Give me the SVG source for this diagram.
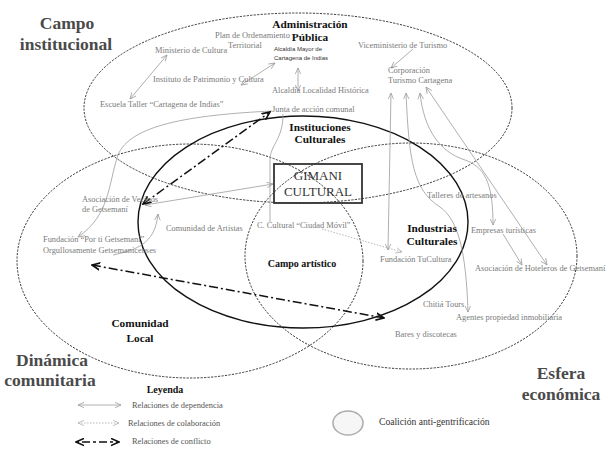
<svg xmlns="http://www.w3.org/2000/svg" width="611" height="450" viewBox="0 0 611 450">
<style>
.bg{fill:#ffffff}
.ell{fill:none;stroke:#222;stroke-width:0.9;stroke-dasharray:2.2 1.3}
.sol{fill:none;stroke:#111;stroke-width:1.4}
.big{font-family:"Liberation Serif",serif;font-weight:bold;font-size:17.5px;fill:#4a4a4a;text-anchor:middle}
.hd{font-family:"Liberation Serif",serif;font-weight:bold;font-size:11.3px;fill:#111;text-anchor:middle}
.sm{font-family:"Liberation Serif",serif;font-size:8.4px;fill:#7a7a7a}
.tiny{font-family:"Liberation Sans",Arial,sans-serif;font-size:6px;fill:#333;text-anchor:middle}
.box{fill:none;stroke:#333;stroke-width:1.8}
.gim{font-family:"Liberation Serif",serif;font-size:13px;fill:#333;text-anchor:middle}
.dep{fill:none;stroke:#9c9c9c;stroke-width:0.8}
.col{fill:none;stroke:#b0b0b0;stroke-width:0.9;stroke-dasharray:1.5 1.5}
.con{fill:none;stroke:#111;stroke-width:1.5;stroke-dasharray:9 3 2 3}
.leg{font-family:"Liberation Serif",serif;font-size:8.4px;fill:#555}
</style>
<defs>
<marker id="ag" viewBox="0 0 10 10" refX="9" refY="5" markerWidth="7" markerHeight="7" markerUnits="userSpaceOnUse" orient="auto-start-reverse">
<path d="M0,1 L9,5 L0,9" fill="none" stroke="#9c9c9c" stroke-width="1.1"/>
</marker>
<marker id="ac" viewBox="0 0 10 10" refX="9" refY="5" markerWidth="7" markerHeight="7" markerUnits="userSpaceOnUse" orient="auto-start-reverse">
<path d="M0,1 L9,5 L0,9" fill="none" stroke="#b0b0b0" stroke-width="1.1"/>
</marker>
<marker id="ak" viewBox="0 0 10 10" refX="9" refY="5" markerWidth="9" markerHeight="9" markerUnits="userSpaceOnUse" orient="auto-start-reverse">
<path d="M0,1 L9,5 L0,9" fill="none" stroke="#111" stroke-width="1.8"/>
</marker>
</defs>
<rect class="bg" x="0" y="0" width="611" height="450"/>

<g id="fields">
<ellipse id="campo-institucional" class="ell" cx="298" cy="108" rx="214" ry="95"/>
<ellipse id="dinamica-comunitaria" class="ell" cx="190" cy="261" rx="173" ry="117"/>
<ellipse id="esfera-economica" class="ell" cx="411" cy="256" rx="166" ry="113"/>
<ellipse id="coalicion" class="sol" cx="303" cy="222" rx="165" ry="106"/>
</g>

<g id="connectors">
<path class="dep" d="M167,55 L130,99" marker-start="url(#ag)" marker-end="url(#ag)"/>
<path class="dep" d="M241,85 L275,63" marker-start="url(#ag)" marker-end="url(#ag)"/>
<path class="dep" d="M298,68 L298,91" marker-start="url(#ag)" marker-end="url(#ag)"/>
<path class="dep" d="M413,49 L391,68" marker-end="url(#ag)"/>
<path class="dep" d="M391,93 L388,250" marker-start="url(#ag)" marker-end="url(#ag)"/>
<path class="dep" d="M406,93 C409,160 413,190 440,207 C458,220 466,250 468,312" marker-start="url(#ag)" marker-end="url(#ag)"/>
<path class="dep" d="M420,93 C424,130 440,152 465,160 C488,168 493,190 493,225" marker-start="url(#ag)" marker-end="url(#ag)"/>
<path class="dep" d="M426,87 L547,265" marker-start="url(#ag)" marker-end="url(#ag)"/>
<path class="dep" d="M503,234 L522,265" marker-end="url(#ag)"/>
<path class="dep" d="M272,111 C190,115 130,125 118,155 C108,185 110,215 78,237" marker-end="url(#ag)"/>
<path class="dep" d="M145,205 L273,184" marker-start="url(#ag)" marker-end="url(#ag)"/>
<path class="dep" d="M113,255 C135,250 155,245 158,214" marker-end="url(#ag)"/>
<path class="dep" d="M283,114 C283,140 270,145 270,160 L270,222"/>
<path class="col" d="M322,229 L402,252" marker-end="url(#ac)"/>
<path class="con" d="M143,204 L270,112" marker-start="url(#ak)" marker-end="url(#ak)"/>
<path class="con" d="M92,265 L384,318" marker-start="url(#ak)" marker-end="url(#ak)"/>
</g>

<g id="field-labels">
<text class="big" x="67" y="29">Campo</text>
<text class="big" x="66" y="50">institucional</text>
<text class="big" x="52" y="366">Dinámica</text>
<text class="big" x="50" y="386">comunitaria</text>
<text class="big" x="561" y="379">Esfera</text>
<text class="big" x="561" y="400">económica</text>
</g>

<g id="zone-labels">
<text class="hd" x="310" y="28">Administración</text>
<text class="hd" x="310" y="41">Pública</text>
<text class="hd" x="320" y="131">Instituciones</text>
<text class="hd" x="320" y="143">Culturales</text>
<text class="hd" x="432" y="232">Industrias</text>
<text class="hd" x="432" y="245">Culturales</text>
<text class="hd" x="302" y="267" style="font-size:10px">Campo artístico</text>
<text class="hd" x="140" y="327">Comunidad</text>
<text class="hd" x="140" y="342">Local</text>
</g>

<g id="gimani">
<rect class="box" x="274" y="164" width="88" height="39"/>
<text class="gim" x="318" y="180">GIMANI</text>
<text class="gim" x="318" y="196">CULTURAL</text>
</g>

<g id="actors">
<text class="sm" x="215" y="38">Plan de Ordenamiento</text>
<text class="sm" x="228" y="48">Territorial</text>
<text class="sm" x="155" y="53">Ministerio de Cultura</text>
<text class="tiny" x="298" y="51">Alcaldía Mayor de</text>
<text class="tiny" x="301" y="60">Cartagena de Indias</text>
<text class="sm" x="153" y="82">Instituto de Patrimonio y Cultura</text>
<text class="sm" x="272" y="93">Alcaldía Localidad Histórica</text>
<text class="sm" x="100" y="107">Escuela Taller “Cartagena de Indias”</text>
<text class="sm" x="272" y="112">Junta de acción comunal</text>
<text class="sm" x="358" y="48">Viceministerio de Turismo</text>
<text class="sm" x="388" y="73">Corporación</text>
<text class="sm" x="388" y="83">Turismo Cartagena</text>
<text class="sm" x="82" y="202">Asociación de Vecinos</text>
<text class="sm" x="82" y="212">de Getsemaní</text>
<text class="sm" x="166" y="231">Comunidad de Artistas</text>
<text class="sm" x="43" y="242">Fundación “Por ti Getsemaní”</text>
<text class="sm" x="43" y="253">Orgullosamente Getsemanicenses</text>
<text class="sm" x="257" y="228">C. Cultural “Ciudad Móvil”</text>
<text class="sm" x="427" y="198">Talleres de artesanos</text>
<text class="sm" x="471" y="233">Empresas turísticas</text>
<text class="sm" x="380" y="262">Fundación TuCultura</text>
<text class="sm" x="475" y="271">Asociación de Hoteleros de Getsemaní</text>
<text class="sm" x="423" y="307">Chitiá Tours</text>
<text class="sm" x="456" y="320">Agentes propiedad inmobiliaria</text>
<text class="sm" x="395" y="337">Bares y discotecas</text>
</g>

<g id="legend">
<text class="hd" x="165" y="393" style="font-size:10px">Leyenda</text>
<path class="dep" d="M78,405 L121,405" marker-start="url(#ag)" marker-end="url(#ag)"/>
<text class="leg" x="132" y="408">Relaciones de dependencia</text>
<path class="col" d="M78,423 L119,423" marker-start="url(#ac)" marker-end="url(#ac)"/>
<text class="leg" x="128" y="426">Relaciones de colaboración</text>
<path class="con" d="M76,442 L119,442" style="stroke-dasharray:3 3 8 3" marker-start="url(#ak)" marker-end="url(#ak)"/>
<text class="leg" x="132" y="444">Relaciones de conflicto</text>
<ellipse cx="348" cy="423" rx="15" ry="12" fill="#f6f6f6" stroke="#aaaaaa" stroke-width="1.5"/>
<text class="leg" x="379" y="425" style="font-size:9.6px;fill:#333">Coalición anti-gentrificación</text>
</g>
</svg>
